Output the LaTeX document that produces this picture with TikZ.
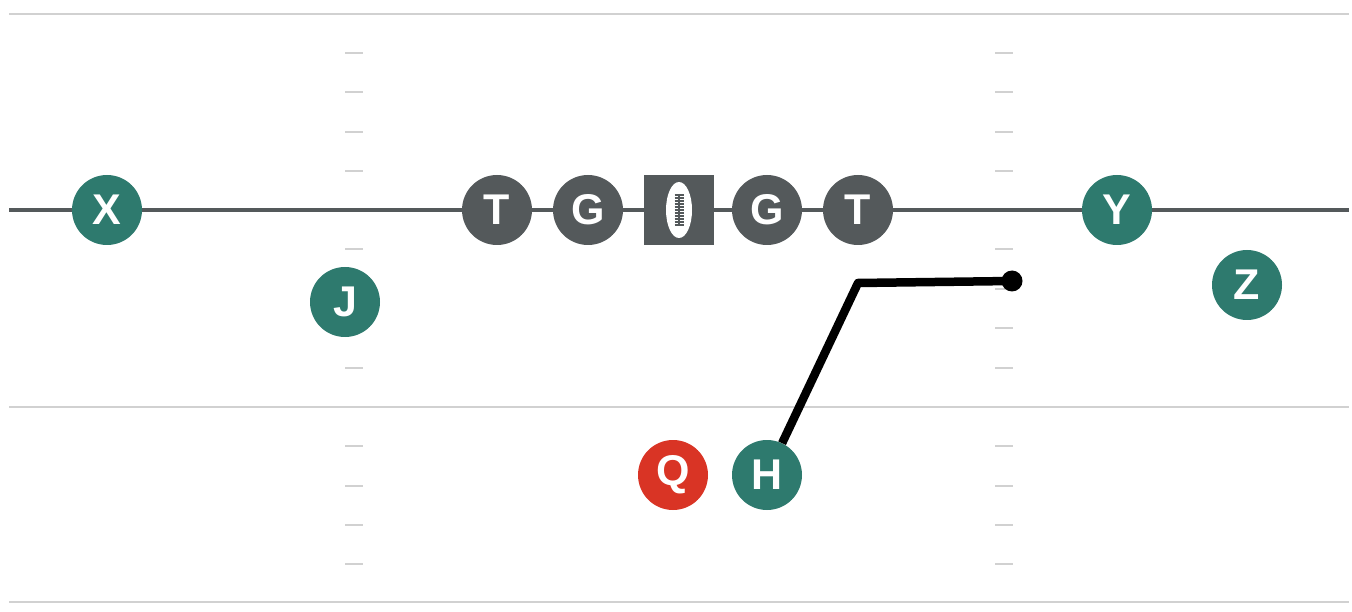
\documentclass[tikz,border=0pt]{standalone}
\usepackage{fontspec}
\setmainfont{Liberation Sans}
\usetikzlibrary{calc}
\begin{document}
\begin{tikzpicture}[x=1pt,y=-1pt,
  field/.style={draw=black!18,line width=2.4pt},
  hashmark/.style={draw=black!18,line width=1.8pt},
  player/.style={circle,minimum size=70pt,inner sep=0pt,text=white,font=\fontsize{43}{43}\selectfont\bfseries},
  off/.style={player,fill=teal70},
  lineman/.style={player,fill=dgray},
  qb/.style={player,fill=qred},
  route/.style={draw=black,line width=8.5pt,line join=round}]
\definecolor{teal70}{RGB}{46,122,110}
\definecolor{dgray}{RGB}{84,89,91}
\definecolor{qred}{RGB}{217,52,37}
\useasboundingbox (0,0) rectangle (1352,612);
% field lines
\draw[field] (9,14) -- (1349,14);
\draw[field] (9,407) -- (1349,407);
\draw[field] (9,602) -- (1349,602);
% hash marks
\foreach \y in {53,92,132,171,249,289,328,368,446,486,525,564}{
  \draw[hashmark] (345,\y) -- (363,\y);
  \draw[hashmark] (995,\y) -- (1013,\y);
}
% line of scrimmage
\draw[draw=dgray,line width=4.5pt] (9,210) -- (1349,210);
% players
\node[off] (X) at (107,210) {X};
\node[off] (J) at (345,302) {J};
\node[lineman] (T1) at (497,210) {T};
\node[lineman] (G1) at (588,210) {G};
\node[fill=dgray,minimum size=70pt,inner sep=0pt] (C) at (679,210) {};
\fill[white] (C.center) ellipse [x radius=13pt, y radius=28pt];
\draw[dgray,line width=2pt] ($(C.center)+(0,-16)$) -- ($(C.center)+(0,16)$);
\foreach \k in {-15,-12,...,15}{
  \draw[dgray,line width=1.2pt] ($(C.center)+(-4.5,\k)$) -- ($(C.center)+(4.5,\k)$);
}
\node[lineman] (G2) at (767,210) {G};
\node[lineman] (T2) at (858,210) {T};
\node[off] (Y) at (1117,210) {Y};
\node[off] (Z) at (1247,285) {Z};
\node[qb] (Q) at (673,475) {Q};
\node[off] (H) at (767,475) {H};
% route
\coordinate (brk) at (858,283);
\coordinate (endpt) at (1012,281);
\draw[route] (H) -- (brk) -- (endpt);
\fill[black] (endpt) circle (10.5pt);
\end{tikzpicture}
\end{document}
